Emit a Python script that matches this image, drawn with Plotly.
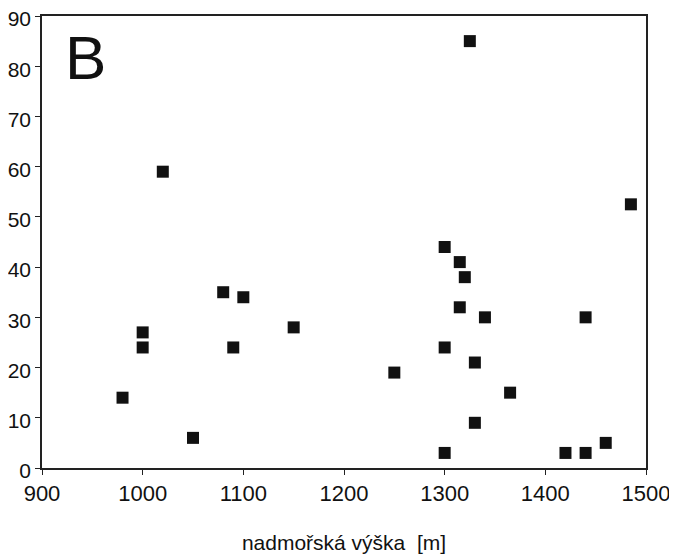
import plotly.graph_objects as go

# data
altitude = [980, 1000, 1000, 1020, 1050, 1080, 1090, 1100, 1150, 1250,
            1300, 1300, 1300, 1315, 1320, 1315, 1325, 1330, 1330, 1340,
            1365, 1420, 1440, 1440, 1460, 1485]
values = [14, 27, 24, 59, 6, 35, 24, 34, 28, 19,
          44, 24, 3, 41, 38, 32, 85, 21, 9, 30,
          15, 3, 3, 30, 5, 52.5]
x_ticks = [900, 1000, 1100, 1200, 1300, 1400, 1500]
y_ticks = [0, 10, 20, 30, 40, 50, 60, 70, 80, 90]
x_title = "nadmořská výška  [m]"
panel_label = "B"

fig = go.Figure()
fig.add_trace(go.Scatter(
    x=altitude, y=values, mode="markers",
    marker=dict(symbol="square", size=12, color="#111111",
                line=dict(width=0)),
    showlegend=False, hoverinfo="x+y",
))

fig.add_annotation(
    x=0.0728, y=0.909, xref="paper", yref="paper",
    xanchor="center", yanchor="middle", showarrow=False,
    text=panel_label,
    font=dict(family="Liberation Sans, Arial, sans-serif", size=62, color="#111111"),
)

axis_common = dict(
    showline=True, linecolor="#222222", linewidth=1.6, mirror=True,
    showgrid=False, zeroline=False, ticks="outside", ticklen=5,
    tickcolor="#222222", tickwidth=1.2, automargin=False,
    ticklabeloverflow="allow",
)

# the page body adds an 8px offset, so the figure is 8px smaller
fig.update_layout(
    width=669, height=546,
    margin=dict(l=34, r=31, t=8, b=86),
    paper_bgcolor="white", plot_bgcolor="white",
    xaxis=dict(range=[900, 1500], tickvals=x_ticks,
               ticktext=[str(v) for v in x_ticks],
               tickfont=dict(family="Liberation Sans, Arial, sans-serif",
                             size=22, color="#111111"),
               title=dict(text=x_title, standoff=36,
                          font=dict(family="Liberation Sans, Arial, sans-serif",
                                    size=21, color="#111111")),
               **axis_common),
    yaxis=dict(range=[0, 90], tickvals=y_ticks,
               ticktext=[str(v) for v in y_ticks],
               ticklabelshift=3,
               tickfont=dict(family="Liberation Sans, Arial, sans-serif",
                             size=21, color="#111111"),
               **axis_common),
)

fig.write_html("out.html")
